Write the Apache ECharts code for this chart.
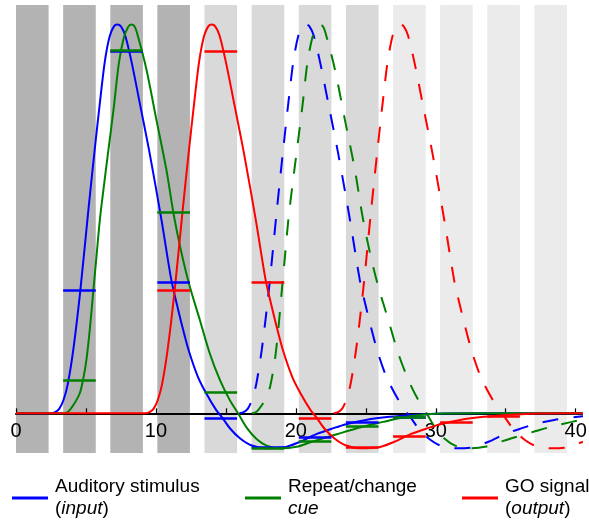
<!DOCTYPE html>
<html>
<head>
<meta charset="utf-8">
<script src="https://cdn.jsdelivr.net/npm/echarts@6/dist/echarts.min.js"></script>
<style>
html,body{margin:0;padding:0;background:#fff;}
#chart{width:589px;height:523px;}
</style>
</head>
<body>
<div id="chart"></div>
<script>
// shaded time windows (x units)
var bandStart = [0, 3.37, 6.74, 10.1, 13.47, 16.84, 20.21, 23.58, 26.95, 30.31, 33.68, 37.05];
var bandEnd   = [2.33, 5.7, 9.07, 12.43, 15.8, 19.17, 22.54, 25.91, 29.28, 32.64, 36.01, 39.38];

// curves [x, value]
var blueSolid = [[0,0],[2.5,0],[2.8,0.003],[3.1,0.012],[3.4,0.035],[3.7,0.075],[4.1,0.165],[4.6,0.317],[5.15,0.515],[5.6,0.67],[6.0,0.8],[6.35,0.905],[6.7,0.97],[7.0,0.995],[7.25,1.0],[7.5,0.995],[7.8,0.972],[8.25,0.905],[8.85,0.797],[9.55,0.669],[10.4,0.497],[11.1,0.343],[11.5,0.28],[11.95,0.214],[12.4,0.155],[13.0,0.094],[13.6,0.051],[14.3,0.009],[14.7,-0.009],[15.3,-0.039],[16.0,-0.064],[16.8,-0.082],[17.9,-0.09],[19.1,-0.088],[20.3,-0.073],[21.5,-0.053],[22.7,-0.038],[23.6,-0.028],[25.0,-0.017],[26.7,-0.009],[28.4,-0.004],[30,-0.001],[33,0],[40.5,0]];
var greenSolid = [[0,0],[3.4,0],[3.72,0.004],[4.08,0.02],[4.55,0.051],[4.79,0.086],[5.03,0.137],[5.27,0.214],[5.51,0.309],[5.75,0.403],[6.0,0.5],[6.3,0.59],[6.65,0.69],[7.0,0.79],[7.35,0.9],[7.7,0.965],[8.0,0.993],[8.25,1.0],[8.5,0.993],[8.75,0.965],[9.33,0.883],[10.04,0.754],[10.75,0.626],[11.3,0.505],[11.83,0.412],[12.42,0.326],[13.14,0.24],[13.85,0.154],[14.57,0.086],[15.28,0.034],[15.87,0],[16.47,-0.036],[17.19,-0.066],[17.91,-0.083],[18.86,-0.09],[20.05,-0.086],[21.0,-0.075],[21.95,-0.064],[23.38,-0.049],[24.81,-0.034],[26.24,-0.022],[27.44,-0.012],[28.87,-0.004],[30,-0.001],[33,0],[40.5,0]];
var redSolid = [[0,0],[9.24,0],[9.54,0.003],[9.84,0.012],[10.14,0.035],[10.44,0.075],[10.84,0.165],[11.34,0.317],[11.89,0.515],[12.34,0.67],[12.74,0.8],[13.09,0.905],[13.44,0.97],[13.74,0.995],[13.99,1.0],[14.24,0.995],[14.54,0.972],[14.99,0.905],[15.59,0.797],[16.29,0.669],[17.14,0.497],[17.84,0.343],[18.24,0.28],[18.69,0.214],[19.14,0.155],[19.74,0.094],[20.34,0.051],[21.04,0.009],[21.44,-0.009],[22.04,-0.039],[22.74,-0.064],[23.54,-0.082],[24.64,-0.09],[25.84,-0.088],[27.04,-0.073],[28.24,-0.053],[29.44,-0.038],[30.34,-0.028],[31.74,-0.017],[33.44,-0.009],[35.14,-0.004],[36.74,-0.001],[39.74,0],[40.5,0]];
var blueDashed = [[15.97,0],[16.27,0.003],[16.57,0.012],[16.87,0.035],[17.17,0.075],[17.57,0.165],[18.07,0.317],[18.62,0.515],[19.07,0.67],[19.47,0.8],[19.82,0.905],[20.17,0.97],[20.47,0.995],[20.72,1.0],[20.97,0.995],[21.27,0.972],[21.72,0.905],[22.32,0.797],[23.02,0.669],[23.87,0.497],[24.57,0.343],[24.97,0.28],[25.42,0.214],[25.87,0.155],[26.47,0.094],[27.07,0.051],[27.77,0.009],[28.17,-0.009],[28.77,-0.039],[29.47,-0.064],[30.27,-0.082],[31.37,-0.09],[32.57,-0.088],[33.77,-0.073],[34.97,-0.053],[36.17,-0.038],[37.07,-0.028],[38.47,-0.017],[40.17,-0.009],[41.87,-0.004]];
var greenDashed = [[16.87,0],[17.19,0.004],[17.55,0.02],[18.02,0.051],[18.26,0.086],[18.5,0.137],[18.74,0.214],[18.98,0.309],[19.22,0.403],[19.47,0.5],[19.77,0.59],[20.12,0.69],[20.47,0.79],[20.82,0.9],[21.17,0.965],[21.47,0.993],[21.72,1.0],[21.97,0.993],[22.22,0.965],[22.8,0.883],[23.51,0.754],[24.22,0.626],[24.77,0.505],[25.3,0.412],[25.89,0.326],[26.61,0.24],[27.32,0.154],[28.04,0.086],[28.75,0.034],[29.34,0],[29.94,-0.036],[30.66,-0.066],[31.38,-0.083],[32.33,-0.09],[33.52,-0.086],[34.47,-0.075],[35.42,-0.064],[36.85,-0.049],[38.28,-0.034],[39.71,-0.022],[40.91,-0.012]];
var redDashed = [[22.71,0],[23.01,0.003],[23.31,0.012],[23.61,0.035],[23.91,0.075],[24.31,0.165],[24.81,0.317],[25.36,0.515],[25.81,0.67],[26.21,0.8],[26.56,0.905],[26.91,0.97],[27.21,0.995],[27.46,1.0],[27.71,0.995],[28.01,0.972],[28.46,0.905],[29.06,0.797],[29.76,0.669],[30.61,0.497],[31.31,0.343],[31.71,0.28],[32.16,0.214],[32.61,0.155],[33.21,0.094],[33.81,0.051],[34.51,0.009],[34.91,-0.009],[35.51,-0.039],[36.21,-0.064],[37.01,-0.082],[38.11,-0.09],[39.31,-0.088],[40.51,-0.073]];

// per-window levels (null = none drawn)
var blueMarks  = [null, 0.316, 0.932, 0.336, -0.013, -0.087, -0.062, -0.024, -0.011, null, null, null];
var greenMarks = [null, 0.086, 0.934, 0.517, 0.053, -0.089, -0.071, -0.033, -0.011, null, null, null];
var redMarks   = [null, null, null, 0.316, 0.932, 0.336, -0.013, -0.088, -0.06, -0.023, -0.008, null];

var tickValues  = [0, 5, 10, 15, 20, 25, 30, 35, 40];
var labelValues = [0, 10, 20, 30, 40];
var seriesNames = ['Auditory stimulus (input)', 'Repeat/change cue', 'GO signal (output)'];
var legendTexts = ['Auditory stimulus\n({i|input})', 'Repeat/change\n{i|cue}', 'GO signal\n({i|output})'];

var FONT = '"Liberation Sans", Arial, sans-serif';
var BLUE = '#0000ff', GREEN = '#008000', RED = '#ff0000';
var shades = ['#b3b3b3', '#d9d9d9', '#ebebeb'];
var DASH = [16, 15];
var Y_MIN = -0.102, Y_MAX = 1.05;
var GRID_H = 448;

function buildMarks(vals){
    var out = [];
    vals.forEach(function(v, i){
        if (v === null) return;
        out.push([{coord:[bandStart[i], v]}, {coord:[bandEnd[i], v]}]);
    });
    return out;
}

var bandData = bandStart.map(function(s, i){
    return [s, bandEnd[i], i < 4 ? 0 : (i < 8 ? 1 : 2)];
});

var curve = function(name, data, color, dashed, marks){
    var s = {
        name: name,
        type: 'line',
        data: data,
        z: dashed ? 3 : 4,
        smooth: 0.3,
        showSymbol: false,
        symbol: 'none',
        silent: true,
        itemStyle: {color: color},
        lineStyle: {color: color, width: 2, type: dashed ? DASH : 'solid'}
    };
    if (marks) {
        s.markLine = {
            silent: true,
            symbol: ['none', 'none'],
            label: {show: false},
            lineStyle: {color: color, width: 2.5, type: 'solid'},
            data: buildMarks(marks)
        };
    }
    return s;
};

var legendAt = function(idx, left){
    return {
        left: left,
        top: 476,
        padding: 0,
        selectedMode: false,
        itemWidth: 36,
        itemHeight: 3,
        data: [{name: seriesNames[idx], icon: 'rect'}],
        formatter: function(){ return legendTexts[idx]; },
        textStyle: {
            fontFamily: FONT, fontSize: 19, color: '#000', lineHeight: 22, padding: [0, 0, 0, 2],
            rich: {i: {fontFamily: FONT, fontSize: 19, fontStyle: 'italic', color: '#000', lineHeight: 22}}
        }
    };
};

var option = {
    animation: false,
    grid: {left: 16, right: 7, top: 5, bottom: 70, outerBoundsMode: 'none'},
    legend: [legendAt(0, 12), legendAt(1, 245), legendAt(2, 462)],
    xAxis: {
        type: 'value',
        min: 0,
        max: 40.45,
        z: 1,
        // lift the axis from the grid bottom up to value 0
        offset: -GRID_H * (0 - Y_MIN) / (Y_MAX - Y_MIN),
        splitLine: {show: false},
        axisLine: {onZero: false, lineStyle: {color: '#000', width: 2}},
        axisTick: {inside: true, length: 5, customValues: tickValues, lineStyle: {color: '#000', width: 1.2}},
        axisLabel: {customValues: labelValues, margin: 8, color: '#000', fontFamily: FONT, fontSize: 20}
    },
    yAxis: {
        type: 'value',
        min: Y_MIN,
        max: Y_MAX,
        show: false,
        splitLine: {show: false}
    },
    series: [
        {
            type: 'custom',
            z: 0,
            silent: true,
            data: bandData,
            renderItem: function(params, api){
                var x0 = api.coord([api.value(0), 0])[0];
                var x1 = api.coord([api.value(1), 0])[0];
                var cs = params.coordSys;
                return {
                    type: 'rect',
                    shape: {x: x0, y: cs.y, width: x1 - x0, height: cs.height},
                    style: {fill: shades[api.value(2)]}
                };
            }
        },
        curve(seriesNames[0], blueSolid, BLUE, false, blueMarks),
        curve(seriesNames[1], greenSolid, GREEN, false, greenMarks),
        curve(seriesNames[2], redSolid, RED, false, redMarks),
        curve('blue dashed', blueDashed, BLUE, true),
        curve('green dashed', greenDashed, GREEN, true),
        curve('red dashed', redDashed, RED, true)
    ]
};

var chart = echarts.init(document.getElementById('chart'));
chart.setOption(option);
</script>
</body>
</html>
